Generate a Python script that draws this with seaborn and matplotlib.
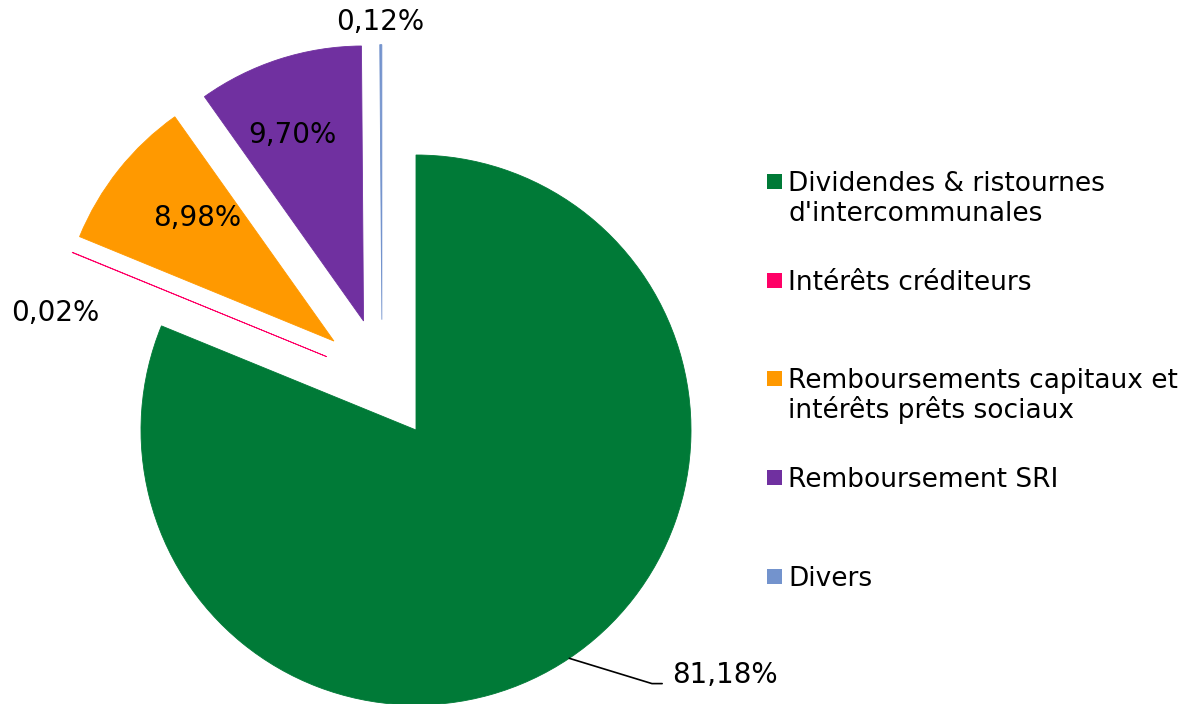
import numpy as np
import matplotlib
matplotlib.use("Agg")
import matplotlib.pyplot as plt
from matplotlib.patches import Rectangle
import seaborn as sns

# ── data ─────────────────────────────────────────
categories = [
    "Dividendes & ristournes\nd'intercommunales",
    "Intérêts créditeurs",
    "Remboursements capitaux et\nintérêts prêts sociaux",
    "Remboursement SRI",
    "Divers",
]
shares = [81.18, 0.02, 8.98, 9.70, 0.12]
pct_labels = ["81,18%", "0,02%", "8,98%", "9,70%", "0,12%"]

# ── style ────────────────────────────────────────
colors = ["#007A37", "#FF0066", "#FF9900", "#7030A0", "#7393CD"]
# explosion (distance in radii, direction in degrees), Excel-like offsets
explode_dist = [0, 0.42, 0.44, 0.44, 0.42]
explode_dir = [0, 140.6, 132.7, 115.7, 107.2]
# label placement: radius from pie centre and angle shift from wedge middle
label_r = [1.29, 1.38, 1.108, 1.164, 1.49]
label_da = [12.4, 4.4, -5.6, 4.9, 4.8]
PCT_FONT = 20
LEG_FONT = 19

sns.set_theme(style="white")
plt.rcParams['font.family'] = ['DejaVu Sans']
plt.rcParams['text.color'] = 'black'

W, H = 1195, 704
CX, CY, R = 416, 430, 275   # pie centre / radius in pixels

fig = plt.figure(figsize=(W / 100, H / 100), dpi=100)
ax = fig.add_axes([0, 0, 1, 1])
wedges, _ = ax.pie(shares, colors=colors, startangle=90,
                   counterclock=False, radius=1,
                   wedgeprops=dict(linewidth=0.6))
for w, c, d, a in zip(wedges, colors, explode_dist, explode_dir):
    w.set_edgecolor(c)
    w.set_center((d * np.cos(np.deg2rad(a)), d * np.sin(np.deg2rad(a))))
ax.set_xlim(-CX / R, (W - CX) / R)
ax.set_ylim(-(H - CY) / R, CY / R)
ax.set_aspect('auto')
ax.axis('off')

# percentage labels
for i, (w, txt) in enumerate(zip(wedges, pct_labels)):
    mid = np.deg2rad((w.theta1 + w.theta2) / 2)
    ang = mid + np.deg2rad(label_da[i])
    tx, ty = label_r[i] * np.cos(ang), label_r[i] * np.sin(ang)
    if i == 0:
        # leader line for the big slice
        ax.annotate(txt, xy=(np.cos(mid), np.sin(mid)), xytext=(tx, ty),
                    ha='left', va='center', fontsize=PCT_FONT,
                    arrowprops=dict(arrowstyle='-', color='black', lw=1.2,
                                    shrinkA=5, shrinkB=0, relpos=(0, 0.2),
                                    connectionstyle="angle,angleA=0,angleB=-17"))
    else:
        ax.text(tx, ty, txt, ha='center', va='center', fontsize=PCT_FONT)

# legend (evenly spaced entries, as in the original)
lx, ly0, step, sq, line_px = 767, 181.5, 98.75, 15, 30
for i, (lab, c) in enumerate(zip(categories, colors)):
    yc = ly0 + i * step
    fig.patches.append(Rectangle((lx / W, 1 - (yc + sq / 2) / H), sq / W, sq / H,
                                 transform=fig.transFigure, facecolor=c,
                                 edgecolor='none'))
    for k, line in enumerate(lab.split("\n")):
        fig.text((lx + 21) / W, 1 - (yc + 9.5 + k * line_px) / H, line,
                 ha='left', va='baseline', fontsize=LEG_FONT)

plt.savefig("out.png", dpi=100)
plt.close()
